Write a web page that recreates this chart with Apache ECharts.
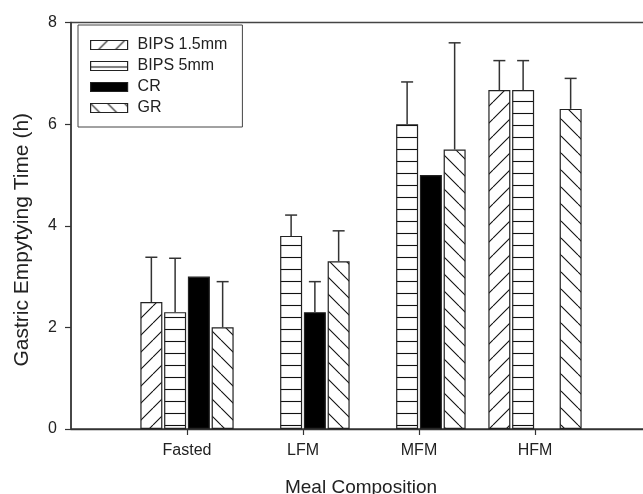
<!DOCTYPE html>
<html>
<head>
<meta charset="utf-8">
<script src="https://cdn.jsdelivr.net/npm/echarts@6/dist/echarts.min.js"></script>
<style>
  html, body { margin: 0; padding: 0; background: #fff; }
  #chart { width: 643px; height: 494px; }
</style>
</head>
<body>
<div id="chart"></div>
<script>
// meal groups, blank slots at both ends leave the half-gap seen in the plot
const meals = ['Fasted', 'LFM', 'MFM', 'HFM'];
const yTicks = [0, 2, 4, 6, 8];

const seriesNames = ['BIPS 1.5mm', 'BIPS 5mm', 'CR', 'GR'];
const bips15 = [2.5, null, null, 6.67];
const bips5 = [2.3, 3.8, 6.0, 6.67];
const cr = [3.0, 2.3, 5.0, null];
const gr = [2.0, 3.3, 5.5, 6.3];

// upper error (SD), null = no bar drawn
const bips15Err = [0.88, null, null, 0.58];
const bips5Err = [1.06, 0.41, 0.83, 0.58];
const crErr = [null, 0.6, null, null];
const grErr = [0.9, 0.6, 2.1, 0.6];

const values = [bips15, bips5, cr, gr];
const errors = [bips15Err, bips5Err, crErr, grErr];

const FONT = '"Liberation Sans", Arial, sans-serif';
const INK = '#222';
const BAR_W = 22;
const BAR_GAP = 0.08; // fraction of bar width

// small canvas tiles for the hatch fills
function tile(kind) {
  const s = kind === 'h' ? 12 : 17;
  const c = document.createElement('canvas');
  c.width = s; c.height = s;
  const g = c.getContext('2d');
  g.fillStyle = '#fff';
  g.fillRect(0, 0, s, s);
  g.strokeStyle = '#111';
  g.lineWidth = 1.1;
  g.beginPath();
  if (kind === 'h') {
    g.moveTo(0, 5.5); g.lineTo(s, 5.5);
  } else {
    for (let i = -1; i <= 1; i++) {
      if (kind === '/') { g.moveTo(i * s, s); g.lineTo(i * s + s, 0); }
      else { g.moveTo(i * s, 0); g.lineTo(i * s + s, s); }
    }
  }
  g.stroke();
  return { image: c, repeat: 'repeat' };
}

const fills = [tile('/'), tile('h'), '#000', tile('\\')];

const axisCats = [''].concat(meals, ['']);

const barSeries = seriesNames.map((name, k) => ({
  name: name,
  type: 'bar',
  data: [null].concat(values[k], [null]),
  barWidth: BAR_W,
  barGap: (BAR_GAP * 100) + '%',
  itemStyle: { color: fills[k], borderColor: '#222', borderWidth: 1.2 },
  emphasis: { disabled: true },
  z: 2
}));

const errData = [];
values.forEach((vals, k) => {
  vals.forEach((v, i) => {
    const e = errors[k][i];
    if (v != null && e != null) errData.push([i + 1, v, v + e, k]);
  });
});

const errSeries = {
  type: 'custom',
  data: errData,
  z: 3,
  silent: true,
  renderItem: function (params, api) {
    const k = api.value(3);
    const step = BAR_W * (1 + BAR_GAP);
    const off = (k - 1.5) * step;
    const lo = api.coord([api.value(0), api.value(1)]);
    const hi = api.coord([api.value(0), api.value(2)]);
    const x = lo[0] + off;
    const style = { stroke: '#333', lineWidth: 1.5 };
    return {
      type: 'group',
      children: [
        { type: 'line', shape: { x1: x, y1: lo[1], x2: x, y2: hi[1] }, style: style },
        { type: 'line', shape: { x1: x - 6, y1: hi[1], x2: x + 6, y2: hi[1] }, style: style }
      ]
    };
  }
};

const chart = echarts.init(document.getElementById('chart'), null, { renderer: 'canvas' });
chart.setOption({
  animation: false,
  textStyle: { fontFamily: FONT, color: INK },
  grid: {
    left: 71, top: 22.5, width: 580, bottom: 65,
    outerBoundsMode: 'none',
    show: true, borderColor: '#444', borderWidth: 1.3, backgroundColor: 'transparent'
  },
  legend: {
    data: seriesNames,
    orient: 'vertical',
    left: 78, top: 25,
    icon: 'rect',
    itemWidth: 37, itemHeight: 9, itemGap: 5,
    padding: [12, 15, 11, 12],
    borderColor: '#444', borderWidth: 1,
    selectedMode: false,
    itemStyle: { borderColor: '#222', borderWidth: 1.2 },
    textStyle: { fontFamily: FONT, fontSize: 16, color: INK, padding: [0, 0, 0, 5] }
  },
  xAxis: {
    type: 'category',
    data: axisCats,
    boundaryGap: false,
    name: 'Meal Composition',
    nameLocation: 'middle',
    nameGap: 49,
    nameTextStyle: { fontFamily: FONT, fontSize: 19, color: INK },
    axisLine: { lineStyle: { color: '#333', width: 1.3 } },
    axisTick: {
      length: 6, lineStyle: { color: '#333', width: 1.2 },
      interval: function (i, v) { return v !== ''; }
    },
    axisLabel: { fontFamily: FONT, fontSize: 16, color: INK, margin: 14, interval: 0 },
    splitLine: { show: false }
  },
  yAxis: {
    type: 'value',
    min: yTicks[0], max: yTicks[yTicks.length - 1], interval: 2,
    name: 'Gastric Empytying Time (h)',
    nameLocation: 'middle',
    nameGap: 38,
    nameTextStyle: { fontFamily: FONT, fontSize: 21, color: INK, padding: [0, 28, 0, 0] },
    axisLine: { show: true, lineStyle: { color: '#333', width: 1.5 } },
    axisTick: { show: true, length: 6, lineStyle: { color: '#333', width: 1.2 } },
    axisLabel: { fontFamily: FONT, fontSize: 16, color: INK, margin: 14 },
    splitLine: { show: false }
  },
  series: barSeries.concat([errSeries])
});
</script>
</body>
</html>
